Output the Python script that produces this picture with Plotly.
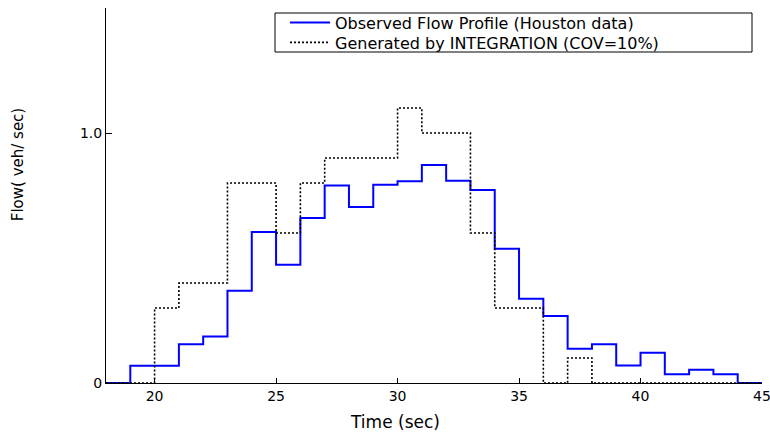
import plotly.graph_objects as go

# bin edges (seconds)
edges = list(range(18, 46))  # 18..45
# observed flow per 1-s bin (veh/sec), Houston data
observed = [0.0, 0.069, 0.069, 0.155, 0.186, 0.369, 0.604, 0.473, 0.66, 0.79,
            0.704, 0.793, 0.807, 0.872, 0.809, 0.772, 0.537, 0.337, 0.268, 0.137,
            0.155, 0.07, 0.121, 0.035, 0.053, 0.035, 0.0]
# generated by INTEGRATION (COV=10%)
generated = [0.0, 0.0, 0.3, 0.4, 0.4, 0.8, 0.8, 0.6, 0.8, 0.9,
             0.9, 0.9, 1.1, 1.0, 1.0, 0.6, 0.3, 0.3, 0.0, 0.1,
             0.0, 0.0, 0.0, 0.0, 0.0, 0.0, 0.0]

ytick_vals = [0, 1.0]
ytick_text = ["0", "1.0"]
xtick_vals = [20, 25, 30, 35, 40, 45]

FONT = "DejaVu Sans, Liberation Sans, Arial, sans-serif"

fig = go.Figure()
fig.add_trace(go.Scatter(
    x=edges, y=observed + [observed[-1]], mode="lines", line_shape="hv",
    line=dict(color="#0000ff", width=2),
    name="Observed Flow Profile (Houston data)", legend="legend"))
fig.add_trace(go.Scatter(
    x=edges, y=generated + [generated[-1]], mode="lines", line_shape="hv",
    line=dict(color="#000000", width=1.6, dash="2px,2px"),
    name="Generated by INTEGRATION (COV=10%)", legend="legend2"))

leg_common = dict(
    xanchor="left", yanchor="middle",
    bgcolor="rgba(0,0,0,0)", borderwidth=0,
    font=dict(family=FONT, size=16, color="black"),
    itemwidth=40,
)
lx = (285 - 106) / 656

fig.update_layout(
    width=770, height=434,
    margin=dict(l=106, r=8, t=8, b=51, autoexpand=False),
    paper_bgcolor="white", plot_bgcolor="white",
    font=dict(family=FONT, color="black", size=14),
    showlegend=True,
    legend=dict(x=lx, y=(383 - 22.5) / 375, **leg_common),
    legend2=dict(x=lx, y=(383 - 42.5) / 375, **leg_common),
    shapes=[dict(type="rect", xref="paper", yref="paper", layer="below",
                 x0=(275 - 106) / 656, x1=(752 - 106) / 656,
                 y0=(383 - 52) / 375, y1=(383 - 13) / 375,
                 line=dict(color="black", width=1), fillcolor="white")],
    xaxis=dict(
        range=[18, 45], showgrid=False, zeroline=False,
        showline=True, linecolor="black", linewidth=1, mirror=False,
        ticks="inside", ticklen=5, tickcolor="black",
        tickvals=xtick_vals, tickfont=dict(size=14),
        ticklabeloverflow="allow", automargin=False,
    ),
    yaxis=dict(
        range=[0, 1.5], showgrid=False, zeroline=False,
        showline=True, linecolor="black", linewidth=1, mirror=False,
        ticks="inside", ticklen=6, tickcolor="black",
        tickvals=ytick_vals, ticktext=ytick_text, tickfont=dict(size=14),
        automargin=False,
    ),
    annotations=[
        dict(text="Time (sec)", xref="paper", yref="paper",
             x=0.4405, y=-0.104, xanchor="center", yanchor="middle",
             showarrow=False, font=dict(size=17)),
        dict(text="Flow( veh/ sec)", xref="paper", yref="paper",
             x=-0.134, y=0.581, xanchor="center", yanchor="middle",
             textangle=-90, showarrow=False, font=dict(size=15)),
    ],
)

fig.write_html("out.html")
